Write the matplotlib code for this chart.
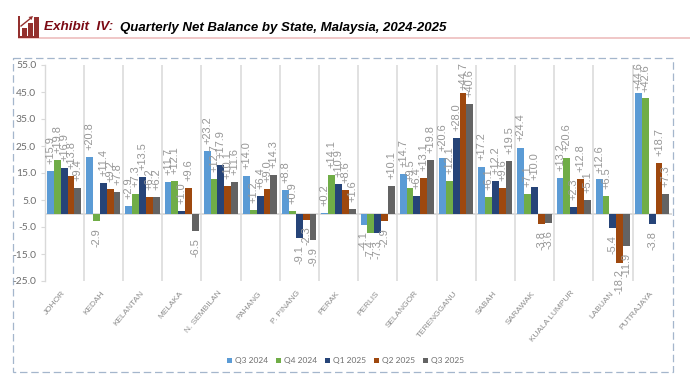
import numpy as np
import matplotlib
matplotlib.use('Agg')
import matplotlib.pyplot as plt
from matplotlib.patches import Rectangle, Polygon

states = ['JOHOR', 'KEDAH', 'KELANTAN', 'MELAKA', 'N. SEMBILAN', 'PAHANG', 'P. PINANG', 'PERAK',
          'PERLIS', 'SELANGOR', 'TERENGGANU', 'SABAH', 'SARAWAK', 'KUALA LUMPUR', 'LABUAN', 'PUTRAJAYA']
q3_2024 = [15.9, 20.8, 2.9, 11.7, 23.2, 14.0, 8.8, 0.2, -4.1, 14.7, 20.6, 17.2, 24.4, 13.2, 12.6, 44.6]
q4_2024 = [19.8, -2.9, 7.3, 12.1, 12.7, 1.2, 0.9, 14.1, -7.4, 9.5, 12.1, 6.1, 7.1, 20.6, 6.5, 42.6]
q1_2025 = [16.9, 11.4, 13.5, 1.0, 17.9, 6.4, -9.1, 10.9, -7.3, 6.4, 28.0, 12.2, 10.0, 2.3, -5.4, -3.8]
q2_2025 = [13.8, 9.2, 6.2, 9.6, 10.1, 9.0, -2.3, 8.6, -2.9, 13.1, 44.7, 9.6, -3.8, 12.8, -18.2, 18.7]
q3_2025 = [9.4, 7.8, 6.2, -6.5, 11.6, 14.3, -9.9, 1.6, 10.1, 19.8, 40.6, 19.5, -3.6, 5.1, -11.9, 7.3]

series = [q3_2024, q4_2024, q1_2025, q2_2025, q3_2025]
names = ['Q3 2024', 'Q4 2024', 'Q1 2025', 'Q2 2025', 'Q3 2025']
colors = ['#5B9BD5', '#70AD47', '#264478', '#9E480E', '#636363']
yticks = np.arange(-25, 56, 10)

W, H = 690, 381
fig = plt.figure(figsize=(W / 100, H / 100), dpi=100)

# header and frame, drawn in pixel coordinates
bg = fig.add_axes([0, 0, 1, 1])
bg.set_xlim(0, W)
bg.set_ylim(H, 0)
bg.axis('off')
bg.add_patch(Rectangle((18, 36.5), 672, 2, color='#F0C8C8', lw=0))
bg.add_patch(Rectangle((18, 16), 1.5, 22, color='#94302E', lw=0))
bg.add_patch(Rectangle((18, 36), 21, 2, color='#94302E', lw=0))
bg.add_patch(Rectangle((22, 28), 4.5, 8, color='#94302E', lw=0))
bg.add_patch(Rectangle((28, 23), 4.5, 13, color='#94302E', lw=0))
bg.add_patch(Rectangle((34, 17), 4.5, 19, color='#94302E', lw=0))
bg.plot([21, 31], [26, 18], color='#94302E', lw=1)
bg.add_patch(Polygon([[33, 16], [28.5, 17], [31.5, 20]], color='#94302E', lw=0))
bg.text(44, 27, 'Exhibit  IV:', color='#7B0A14', fontsize=9.7, fontweight='bold', fontstyle='italic',
        family='Liberation Sans', va='center')
bg.text(119.5, 27.5, 'Quarterly Net Balance by State, Malaysia, 2024-2025', color='black', fontsize=9.5,
        fontweight='bold', fontstyle='italic', family='Liberation Sans', va='center')
bg.add_patch(Rectangle((12.5, 57.5), 660.5, 314, fill=False, ec='#A4B6CC', lw=0.9, ls=(0, (6, 3))))

ax = fig.add_axes([44.5 / W, 1 - 281 / H, (671.7 - 44.5) / W, 216 / H])
ax.patch.set_alpha(0)
x = np.arange(len(states))
width = 0.175
for i in range(len(series)):
    bars = ax.bar(x + (i - 2) * width, series[i], width, color=colors[i], label=names[i], zorder=3)
    texts = ax.bar_label(bars, fmt='%+.1f', rotation=90, padding=5, fontsize=7.9, color='#969696',
                         family='Liberation Sans', zorder=4)
    # the tallest labels sit closer to their bars so they stay inside the frame
    for j in range(len(texts)):
        if series[i][j] > 44:
            texts[j].xyann = (0, 2)

ax.set_xlim(-0.5, len(states) - 0.5)
ax.set_ylim(-25, 55)
ax.axhline(0, color='#D9D9D9', lw=1.3, zorder=2)
for s in ['top', 'right', 'bottom']:
    ax.spines[s].set_visible(False)
ax.spines['left'].set_color('#D9D9D9')
ax.spines['left'].set_linewidth(1.0)

ax.set_yticks(yticks)
ax.set_yticklabels(['%.1f' % v for v in yticks], fontsize=7.4, color='#6E6E6E', family='Lato')
ax.tick_params(axis='y', length=3, width=0.8, color='#D9D9D9', pad=3)

ax.set_xticks(x)
ax.set_xticklabels(states, rotation=50, ha='right', va='center', rotation_mode='anchor', fontsize=6,
                   color='#8C8C8C', family='Liberation Sans')
ax.tick_params(axis='x', length=0, pad=8)
ax.set_xticks(np.arange(0.5, len(states) - 1, 1), minor=True)
ax.tick_params(axis='x', which='minor', length=0)
ax.grid(axis='x', which='minor', color='#D9D9D9', lw=1.1, zorder=1)

handles, labels = ax.get_legend_handles_labels()
leg = fig.legend(handles, labels, ncol=5, loc='center', bbox_to_anchor=(345.5 / W, 1 - 361 / H), frameon=False,
                 handlelength=0.55, handleheight=0.55, handletextpad=0.35, columnspacing=1.0,
                 prop={'family': 'Lato', 'size': 6}, labelcolor='#6E6E6E')

plt.savefig('out.png', dpi=100)
